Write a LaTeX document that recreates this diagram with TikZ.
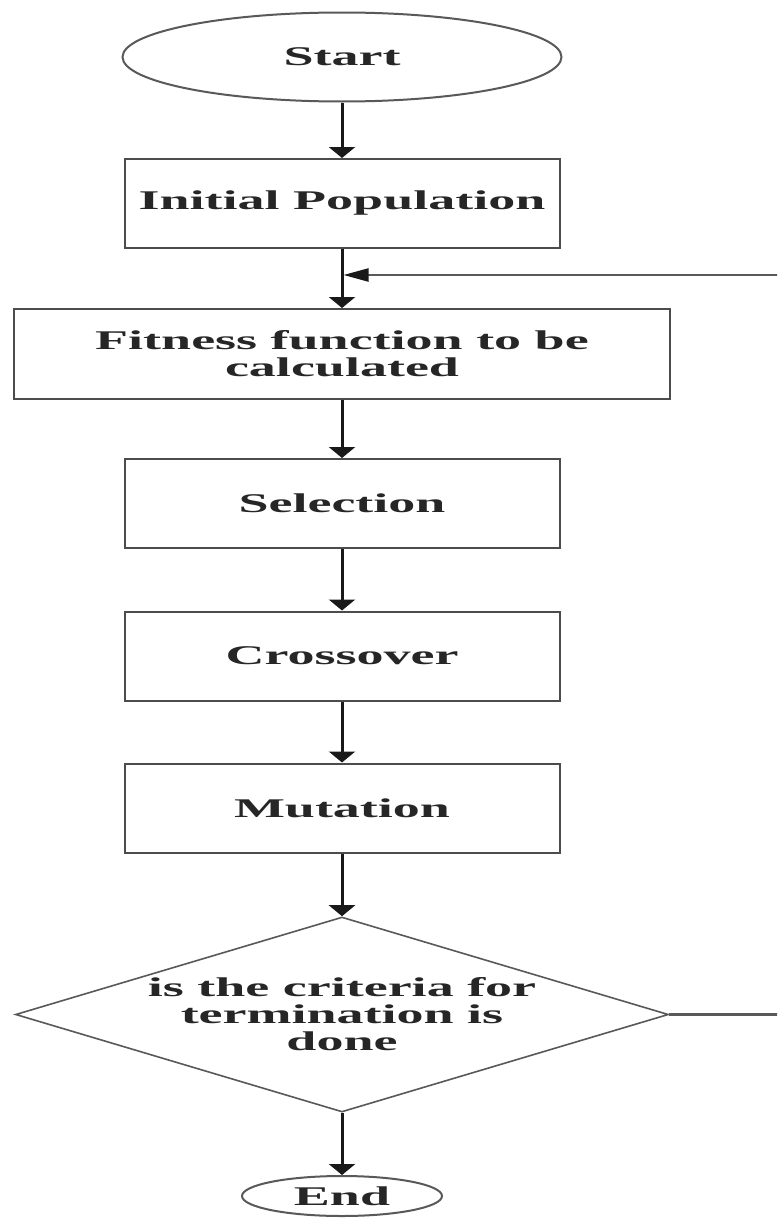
\documentclass[tikz,border=0pt]{standalone}
\usepackage{fontspec}
\setmainfont{Liberation Serif}
\newfontfamily\widefont[FakeStretch=2.0]{Liberation Serif Bold}
\usetikzlibrary{shapes.geometric,arrows.meta}
\begin{document}
\begin{tikzpicture}[x=1pt,y=-1pt,
  every node/.style={font=\widefont\fontsize{27}{27}\selectfont, text=black!85, align=center},
  procbox/.style={draw=black!70, line width=2pt, rectangle, minimum width=435pt, minimum height=89pt, inner sep=0pt},
  term/.style={draw=black!65, line width=2pt, ellipse, inner sep=0pt},
  decision/.style={draw=black!65, line width=1.6pt, diamond, shape aspect=3.35, inner sep=0pt, minimum width=653pt, minimum height=195pt},
  flow/.style={draw=black!90, line width=3pt, -{Triangle[width=26pt,length=11pt]}},
  loopback/.style={draw=black!65, line width=2.2pt, -{Triangle[width=13pt,length=25pt,color=black!90]}}
]
\useasboundingbox (0,0) rectangle (777,1218);
\fill[white] (0,0) rectangle (777,1218);
\clip (0,0) rectangle (777,1218);

\node[term, minimum width=439pt, minimum height=89pt] (start) at (342,57) {Start};
\node[procbox] (init) at (342,203.5) {Initial Population};
\node[procbox, minimum width=656pt, minimum height=90pt] (fit) at (342,354) {Fitness function to be\\calculated};
\node[procbox] (sel) at (342,503.5) {Selection};
\node[procbox] (cross) at (342,656) {Crossover};
\node[procbox] (mut) at (342,808) {Mutation};
\node[decision] (dec) at (342,1014.5) {is the criteria for\\termination is\\done};
\node[term, minimum width=200pt, minimum height=40pt] (end) at (342,1196) {End};

\coordinate (join) at (343.5,275);
\coordinate (rail) at (783,275);

\draw[flow] (start) -- (init);
\draw[flow] (init) -- (fit);
\draw[flow] (fit) -- (sel);
\draw[flow] (sel) -- (cross);
\draw[flow] (cross) -- (mut);
\draw[flow] (mut) -- (dec);
\draw[flow] (dec) -- (end);
\draw[loopback] (dec.east) -| (rail) -- (join);
\end{tikzpicture}
\end{document}
